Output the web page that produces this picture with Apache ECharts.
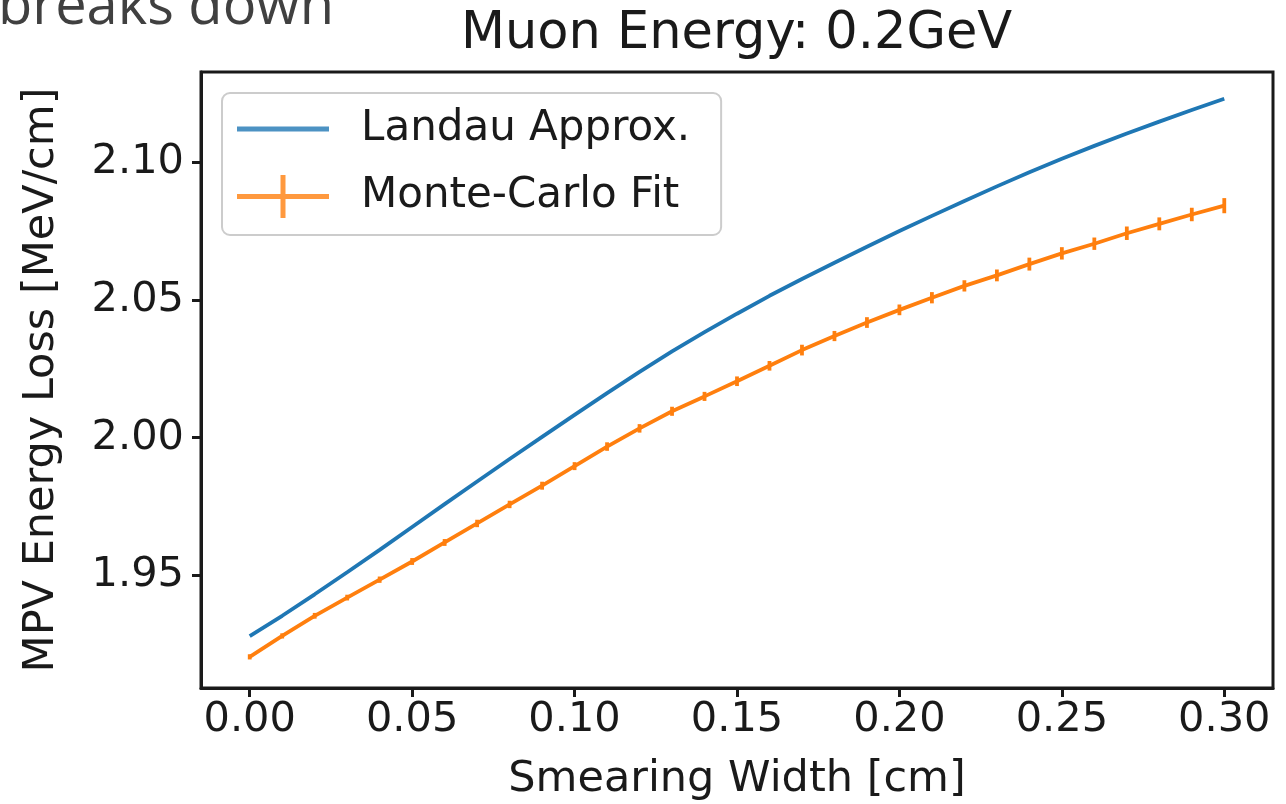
<!DOCTYPE html>
<html>
<head>
<meta charset="utf-8">
<script src="https://cdn.jsdelivr.net/npm/echarts@6/dist/echarts.min.js"></script>
<style>
html,body{margin:0;padding:0;background:#fff;}
#chart{width:1286px;height:804px;}
</style>
</head>
<body>
<div id="chart"></div>
<script>
// ---- data ----
var smearingWidth = [0.00,0.01,0.02,0.03,0.04,0.05,0.06,0.07,0.08,0.09,0.10,0.11,0.12,0.13,0.14,0.15,
  0.16,0.17,0.18,0.19,0.20,0.21,0.22,0.23,0.24,0.25,0.26,0.27,0.28,0.29,0.30];
var landauApprox = [1.9280,1.9354,1.9432,1.9512,1.9593,1.9676,1.9759,1.9841,1.9923,2.0003,2.0083,2.0162,
  2.0239,2.0313,2.0383,2.0450,2.0515,2.0576,2.0635,2.0693,2.0750,2.0805,2.0859,2.0912,2.0963,2.1012,
  2.1059,2.1104,2.1147,2.1189,2.1230];
var monteCarloFit = [1.9205,1.9281,1.9354,1.9420,1.9485,1.9551,1.9620,1.9689,1.9758,1.9826,1.9897,1.9968,
  2.0034,2.0096,2.0150,2.0205,2.0261,2.0318,2.0369,2.0418,2.0464,2.0508,2.0551,2.0589,2.0630,2.0669,
  2.0704,2.0742,2.0776,2.0810,2.0842];
var monteCarloErr = [0.0004,0.0004,0.0005,0.0005,0.0006,0.0007,0.0007,0.0008,0.0008,0.0009,0.0009,0.0010,
  0.0010,0.0011,0.0011,0.0012,0.0012,0.0014,0.0013,0.0014,0.0014,0.0015,0.0015,0.0016,0.0018,0.0017,
  0.0017,0.0019,0.0018,0.0019,0.0022];
var xTickValues = [0.00,0.05,0.10,0.15,0.20,0.25,0.30];
var xTickLabels = ['0.00','0.05','0.10','0.15','0.20','0.25','0.30'];
var yTickValues = [1.95,2.00,2.05,2.10];
var yTickLabels = ['1.95','2.00','2.05','2.10'];
var titleText = 'Muon Energy: 0.2GeV';
var xName = 'Smearing Width [cm]';
var yName = 'MPV Energy Loss [MeV/cm]';
var seriesNames = ['Landau Approx.', 'Monte-Carlo Fit'];
var slideText = 'breaks down';

// ---- build ----
function lookup(vals, labels, v) {
  for (var i = 0; i < vals.length; i++) { if (Math.abs(vals[i] - v) < 1e-9) return labels[i]; }
  return '';
}
var landauData = smearingWidth.map(function (x, i) { return [x, landauApprox[i]]; });
var mcData = smearingWidth.map(function (x, i) { return [x, monteCarloFit[i]]; });
var errData = smearingWidth.map(function (x, i) { return [x, monteCarloFit[i], monteCarloErr[i]]; });

var FONT = 'DejaVu Sans';
var INK = '#1a1a1a';
var BLUE = '#1f77b4';
var ORANGE = '#ff7f0e';
var TITLE_SIZE = 51;

// centre the title over the plot area (plot spans x 201..1273)
var measureCtx = document.createElement('canvas').getContext('2d');
measureCtx.font = TITLE_SIZE + 'px "' + FONT + '"';
var titleWidth = measureCtx.measureText(titleText).width;
var plotCenter = (201 + 1273) / 2;

var chart = echarts.init(document.getElementById('chart'), null, {renderer: 'canvas'});
chart.setOption({
  animation: false,
  backgroundColor: '#ffffff',
  title: {
    text: titleText,
    left: Math.round(plotCenter - titleWidth / 2),
    top: 9,
    padding: 0,
    textStyle: {fontFamily: FONT, fontSize: TITLE_SIZE, fontWeight: 'normal', color: INK}
  },
  graphic: [{
    type: 'text',
    left: -2,
    top: -20,
    style: {text: slideText, font: '56px "Open Sans"', fill: '#404040'}
  }],
  legend: {
    orient: 'vertical',
    left: 222,
    top: 93,
    padding: [15, 31, 17, 15],
    itemWidth: 92,
    itemHeight: 43,
    itemGap: 25,
    borderColor: '#cccccc',
    borderWidth: 2,
    borderRadius: 8,
    backgroundColor: 'rgba(255,255,255,0.8)',
    textStyle: {fontFamily: FONT, fontSize: 42, color: INK, padding: [0, 0, 0, 27]},
    itemStyle: {borderWidth: 0},
    data: [
      {name: seriesNames[0], icon: 'path://M0,0 H92 V5 H0 Z', itemStyle: {color: BLUE, opacity: 0.8}},
      {name: seriesNames[1], icon: 'path://M0,19 H92 V24 H0 Z M43.5,0 H48.5 V43 H43.5 Z', itemStyle: {color: ORANGE, opacity: 0.8}}
    ]
  },
  grid: {
    left: 201, right: 13, top: 72, bottom: 116,
    outerBoundsMode: 'none',
    containLabel: false,
    show: true, borderColor: INK, borderWidth: 3, backgroundColor: 'transparent'
  },
  xAxis: {
    type: 'value',
    min: -0.015, max: 0.315,
    name: xName,
    nameLocation: 'middle',
    nameGap: 70,
    nameTextStyle: {fontFamily: FONT, fontSize: 43, color: INK},
    axisLine: {show: true, onZero: false, lineStyle: {color: INK, width: 3}},
    axisTick: {show: true, length: 9, lineStyle: {color: INK, width: 3}, customValues: xTickValues},
    axisLabel: {
      margin: 11, fontFamily: FONT, fontSize: 41.5, color: INK,
      customValues: xTickValues,
      formatter: function (v) { return lookup(xTickValues, xTickLabels, v); }
    },
    splitLine: {show: false}
  },
  yAxis: {
    type: 'value',
    min: 1.9092, max: 2.1327,
    name: yName,
    nameLocation: 'middle',
    nameGap: 138,
    nameTextStyle: {fontFamily: FONT, fontSize: 43, color: INK},
    axisLine: {show: true, onZero: false, lineStyle: {color: INK, width: 3}},
    axisTick: {show: true, length: 9, lineStyle: {color: INK, width: 3}, customValues: yTickValues},
    axisLabel: {
      margin: 17, fontFamily: FONT, fontSize: 41.5, color: INK,
      customValues: yTickValues,
      formatter: function (v) { return lookup(yTickValues, yTickLabels, v); }
    },
    splitLine: {show: false}
  },
  series: [
    {
      name: seriesNames[0], type: 'line', data: landauData,
      showSymbol: false, symbol: 'none', smooth: false,
      lineStyle: {color: BLUE, width: 3.8}, itemStyle: {color: BLUE}, z: 3
    },
    {
      name: seriesNames[1], type: 'line', data: mcData,
      showSymbol: false, symbol: 'none', smooth: false,
      lineStyle: {color: ORANGE, width: 3.8}, itemStyle: {color: ORANGE}, z: 3
    },
    {
      name: 'errorbars', type: 'custom', data: errData,
      encode: {x: 0, y: 1}, z: 4, clip: true,
      renderItem: function (params, api) {
        var x = api.value(0), y = api.value(1), e = api.value(2);
        var lo = api.coord([x, y - e]);
        var hi = api.coord([x, y + e]);
        return {
          type: 'line',
          shape: {x1: lo[0], y1: lo[1] + 1.5, x2: hi[0], y2: hi[1] - 1.5},
          style: {stroke: ORANGE, lineWidth: 3.8}
        };
      }
    }
  ]
});
</script>
</body>
</html>
